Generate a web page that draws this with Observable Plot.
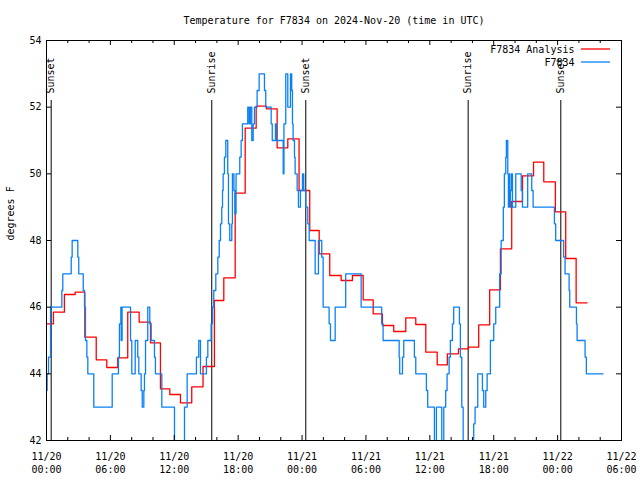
<!DOCTYPE html>
<html><head><meta charset="utf-8">
<script src="https://cdn.jsdelivr.net/npm/d3@7"></script>
<script src="https://cdn.jsdelivr.net/npm/@observablehq/plot@0.6"></script>
<style>body{margin:0;background:#fff} svg{display:block}</style>
</head><body><div id="chart"></div>
<script>
const titleText = "Temperature for F7834 on 2024-Nov-20 (time in UTC)";
const yLabel = "degrees F";
const seriesNames = ["F7834 Analysis", "F7834"];
const seriesColors = ["#ff0000", "#0a80f5"];

// hours since 2024-11-20 00:00 UTC
const obsHours = [0.00,0.06,0.19,0.38,1.44,1.53,2.32,2.41,2.94,3.03,3.45,3.57,3.66,3.79,3.88,4.44,6.17,6.76,6.85,6.98,7.02,7.10,7.89,8.01,8.33,8.57,8.67,8.89,8.99,9.14,9.20,9.30,9.51,9.70,9.83,10.14,10.23,10.83,12.02,12.96,13.21,14.08,14.30,14.46,15.02,15.15,15.46,15.59,15.71,15.90,16.09,16.22,16.34,16.46,16.53,16.59,16.71,16.84,17.02,17.09,17.21,17.40,17.46,17.60,17.70,17.80,18.15,18.28,18.40,18.90,19.03,19.15,19.28,19.41,19.53,19.78,19.97,20.47,20.59,21.10,21.20,21.50,21.60,22.23,22.30,22.47,22.66,22.91,23.03,23.10,23.16,23.29,23.35,23.54,23.66,23.85,24.04,24.16,24.35,24.54,24.67,25.23,25.54,25.85,25.98,26.54,26.67,27.11,28.10,29.55,31.48,31.61,33.12,33.17,33.43,33.55,34.55,34.68,35.68,35.80,36.43,36.62,37.12,37.31,37.49,37.62,37.81,37.93,38.12,38.24,38.78,38.87,39.00,39.13,40.12,40.25,40.50,40.94,41.06,41.25,41.38,41.69,42.00,42.19,42.56,42.70,42.90,43.00,43.13,43.19,43.32,43.38,43.45,43.50,43.57,43.66,43.76,44.07,44.58,44.70,45.19,45.57,45.70,47.70,47.82,48.57,48.70,49.08,49.14,49.77,49.83,50.58,50.70,52.27];
const obsTemps = [43.5,44,44.5,46,46.5,47,47.5,48,47.5,47,46.5,46,45,44.5,44,43,44,44.5,45.5,46,45,46,45,44,45,44.5,44,43.5,43,43.5,44,45,46,45.5,45,44.5,44,43,41.5,43,44,44.5,45,44,44.5,45,45.5,46,46.5,47,47.5,48,48.5,49,49.5,50,50.5,51,50,48.5,48,48.5,50,49.5,48.8,50,50.5,51,51.5,52,51.5,52,51,51.5,52,52.5,53,52.5,52,51.5,51,51.5,51,50,51.5,53,52,53,52.5,51.5,51,50.5,50,49.5,49,49.5,50,49.5,49,48.5,48,47,48,47.5,46,45.5,45,46,47,46,45.5,45,44.5,44,44.5,45,44.5,44,43.5,43,41.5,43,41.5,43,43.5,44,44.5,45,45.5,46,45.5,44.5,43,41.5,42.5,43,44,43.5,43,43.5,44,45,45.5,46,47,48,49,50,50.5,51,50,49,50,49,49.5,50,49,50,49.5,49,50,49.5,49,48.5,48,47.5,47,46.5,46,45.5,45,44.5,44,44];

const anaHours = [0.07,0.65,1.68,2.69,3.60,4.67,5.66,6.69,7.63,8.70,9.77,10.70,11.58,12.58,13.64,14.70,15.77,16.65,17.72,18.66,19.69,20.66,21.66,22.66,23.72,24.72,25.61,26.60,27.67,28.73,29.74,30.68,31.55,32.61,33.74,34.68,35.62,36.69,37.65,38.69,39.62,40.59,41.62,42.63,43.69,44.70,45.74,46.70,47.79,48.76,49.74,50.77];
const anaTemps = [45.5,45.85,46.38,46.45,45.1,44.42,44.19,44.48,45.85,45.55,44.93,43.55,43.38,43.13,43.61,44.22,46.2,46.88,49.42,51.37,52.03,51.95,50.78,51.05,49.5,48.3,47.6,46.95,46.8,46.95,46.22,45.8,45.45,45.27,45.68,45.48,44.65,44.27,44.6,44.75,44.8,45.47,46.52,47.75,49.17,49.94,50.35,49.76,48.86,47.46,46.13,46.13];

const sunHours = [0.44, 15.52, 24.35, 39.6, 48.3];
const sunLabels = ["Sunset", "Sunrise", "Sunset", "Sunrise", "Sunset"];

const xTickHours = [0, 6, 12, 18, 24, 30, 36, 42, 48, 54];
const xMinorHours = [2, 4, 8, 10, 14, 16, 20, 22, 26, 28, 32, 34, 38, 40, 44, 46, 50, 52];
const yTicks = [42, 44, 46, 48, 50, 52, 54];

const base = Date.UTC(2024, 10, 20);
const toDate = h => new Date(base + h * 3600e3);
const obs = obsHours.map((h, i) => ({time: toDate(h), temp: obsTemps[i]}));
const ana = anaHours.map((h, i) => ({time: toDate(h), temp: anaTemps[i]}));
const sun = sunHours.map((h, i) => ({time: toDate(h), label: sunLabels[i]}));
const xMajor = xTickHours.map(toDate);
const xMinor = xMinorHours.map(toDate);

const W = 640, H = 480, mL = 46, mR = 19, mT = 40, mB = 40;
const fw = W - mL - mR, fh = H - mT - mB;
const fmt = d3.utcFormat("%m/%d\n%H:%M");

const chart = Plot.plot({
  width: W, height: H,
  marginLeft: mL, marginRight: mR, marginTop: mT, marginBottom: mB,
  style: {fontFamily: "DejaVu Sans Mono", fontSize: "10px", background: "#fff", color: "#000"},
  x: {type: "utc", domain: [toDate(xTickHours[0]), toDate(xTickHours[xTickHours.length - 1])]},
  y: {domain: [yTicks[0], yTicks[yTicks.length - 1]]},
  marks: [
    Plot.ruleX(sun, {x: "time", insetTop: fh * 0.15, stroke: "#000", strokeWidth: 1}),
    Plot.text(sun, {x: "time", text: "label", frameAnchor: "top", dy: 53, rotate: -90, textAnchor: "start", lineAnchor: "middle", fill: "#000"}),
    Plot.lineY(ana, {x: "time", y: "temp", curve: "step-after", stroke: seriesColors[0], strokeWidth: 1.3, clip: true}),
    Plot.lineY(obs, {x: "time", y: "temp", curve: "step-after", stroke: seriesColors[1], strokeWidth: 1.3, clip: true}),
    Plot.ruleX(xMajor, {x: d => d, insetTop: fh - 5, stroke: "#000"}),
    Plot.ruleX(xMajor, {x: d => d, insetBottom: fh - 5, stroke: "#000"}),
    Plot.ruleX(xMinor, {x: d => d, insetTop: fh - 3, stroke: "#000"}),
    Plot.ruleX(xMinor, {x: d => d, insetBottom: fh - 3, stroke: "#000"}),
    Plot.ruleY(yTicks, {y: d => d, insetRight: fw - 5, stroke: "#000"}),
    Plot.ruleY(yTicks, {y: d => d, insetLeft: fw - 5, stroke: "#000"}),
    Plot.frame({stroke: "#000", strokeWidth: 1}),
    Plot.axisX(xMajor, {tickSize: 0, tickPadding: 10, tickFormat: fmt, label: null, lineHeight: 1.3}),
    Plot.axisY(yTicks, {tickSize: 0, tickPadding: 5, label: null}),
    Plot.text([titleText], {frameAnchor: "top", dy: -20, lineAnchor: "middle", fill: "#000"}),
    Plot.text([yLabel], {frameAnchor: "left", dx: -36, rotate: -90, lineAnchor: "middle", fill: "#000"}),
    Plot.text([seriesNames[0]], {frameAnchor: "top-right", dx: -47, dy: 9, textAnchor: "end", lineAnchor: "middle", fill: "#000"}),
    Plot.text([seriesNames[1]], {frameAnchor: "top-right", dx: -47, dy: 22, textAnchor: "end", lineAnchor: "middle", fill: "#000"})
  ]
});

// legend line samples
const svg = d3.select(chart);
[9, 22].forEach((dy, i) => {
  svg.append("line")
    .attr("x1", W - mR - 40).attr("x2", W - mR - 11)
    .attr("y1", mT + dy).attr("y2", mT + dy)
    .attr("stroke", seriesColors[i]).attr("stroke-width", 1.3);
});
document.getElementById("chart").append(chart);
</script>
</body></html>
